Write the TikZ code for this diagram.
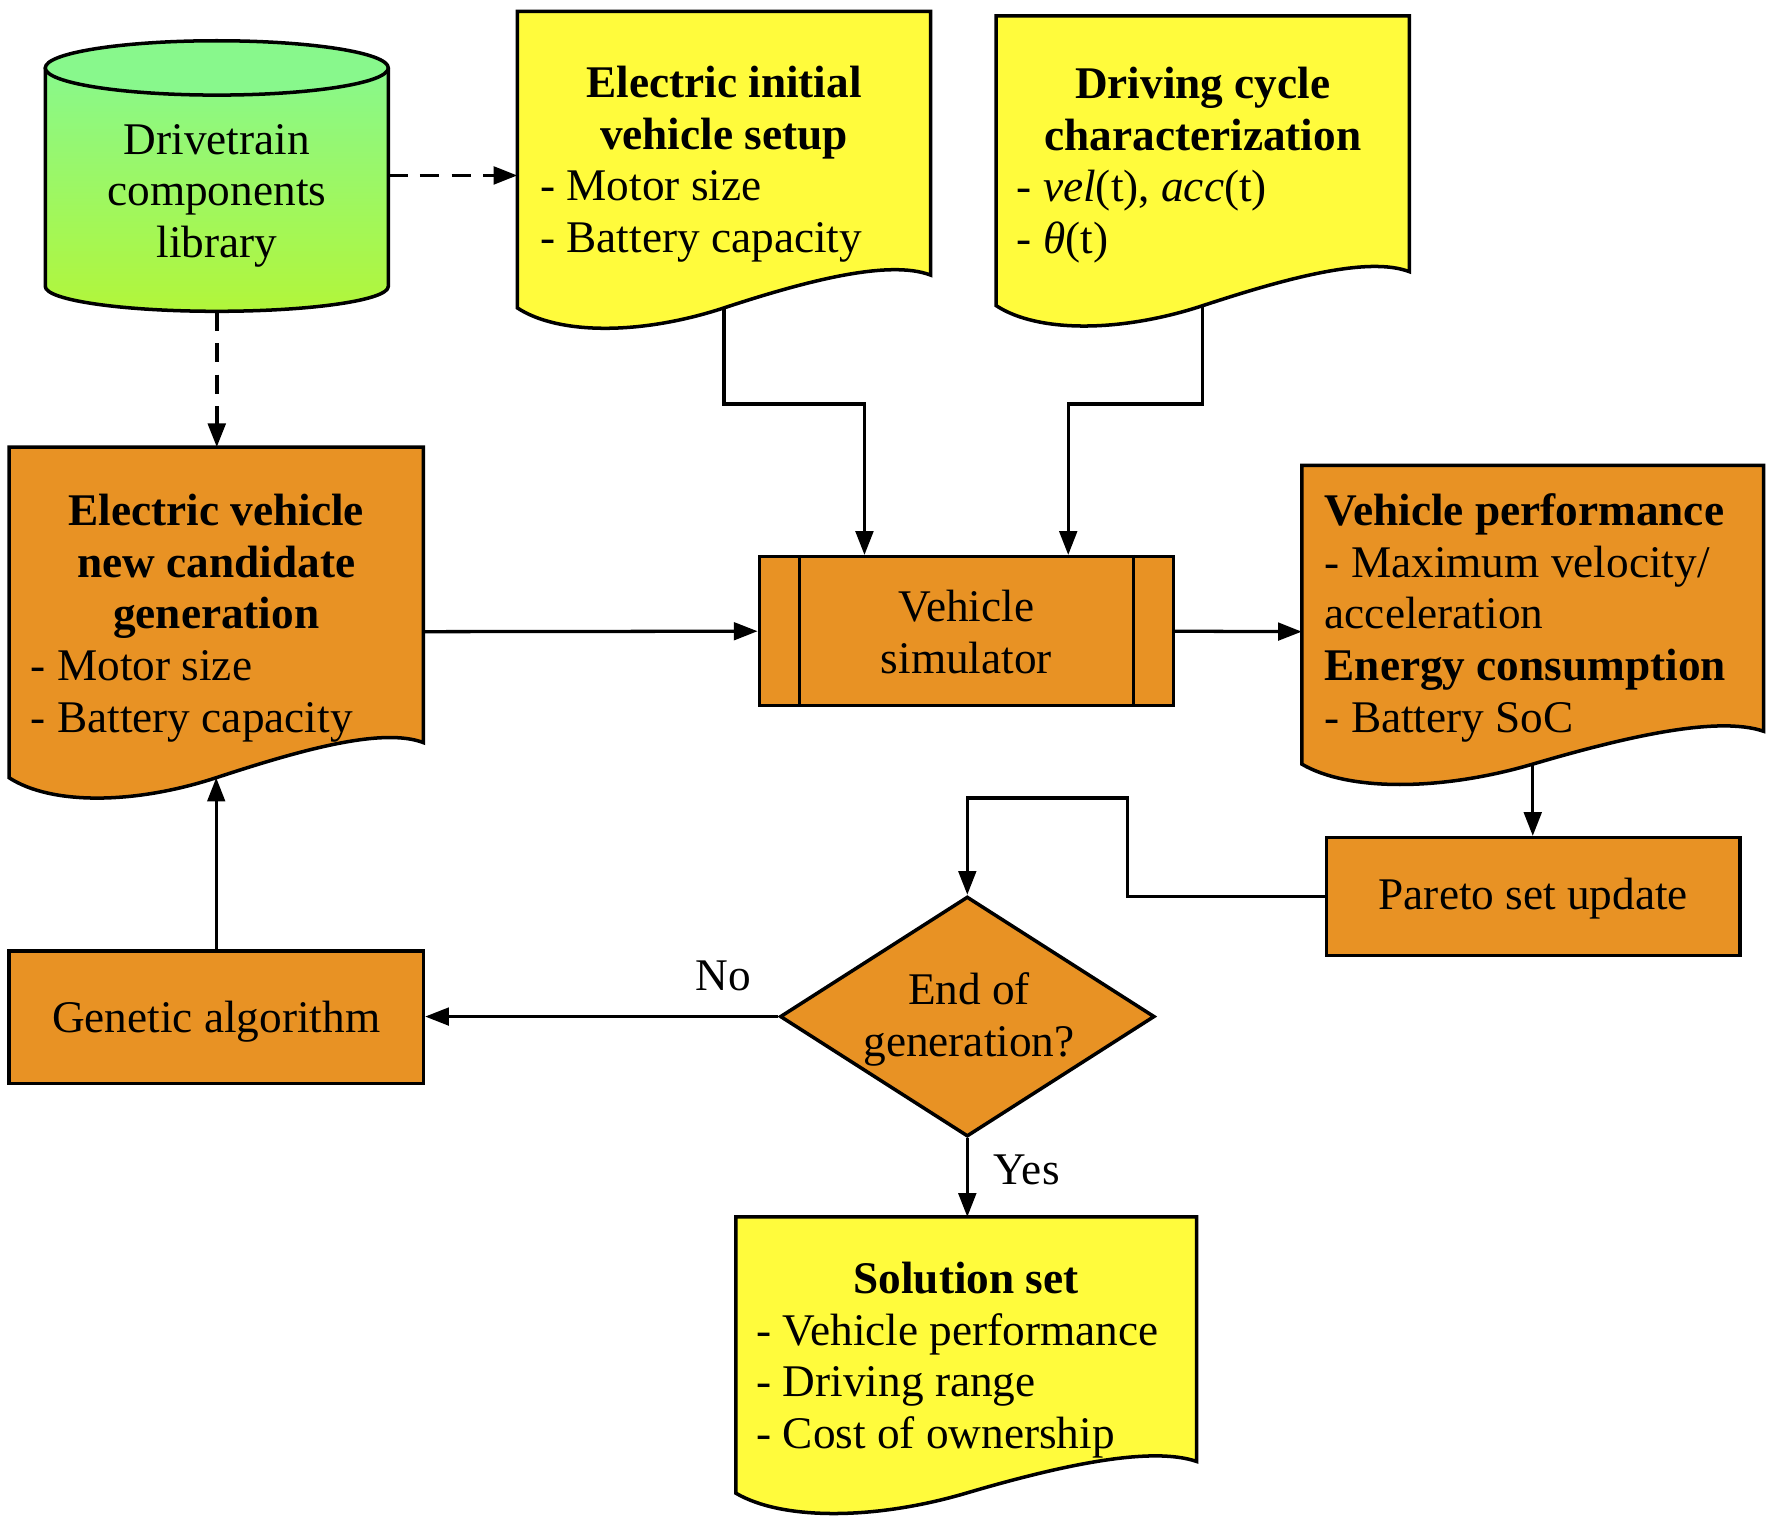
\documentclass[tikz,border=0pt]{standalone}
\usepackage{fontspec}
\setmainfont{Liberation Serif}
\usetikzlibrary{arrows.meta,shapes.geometric}
\definecolor{docyellow}{RGB}{255,251,60}
\definecolor{boxorange}{RGB}{232,146,36}
\definecolor{cyltop}{RGB}{136,248,140}
\definecolor{cylbot}{RGB}{178,246,58}
\tikzset{
  shapeline/.style={draw=black, line width=3.1pt, line join=miter},
  txt/.style={font=\fontsize{40}{45.7}\selectfont, inner sep=0pt},
  btxt/.style={font=\fontsize{40}{45.7}\selectfont\bfseries, inner sep=0pt},
  obox/.style={shapeline, fill=boxorange, rectangle, inner sep=0pt},
  arr/.style={draw=black, line width=2.9pt, -{Triangle[length=21pt,width=15.5pt]}},
  dasharr/.style={arr, line width=3.3pt, dash pattern=on 17pt off 11pt},
}
% #1 name, #2 fill, #3 x0, #4 top, #5 x1, #6 yL, #7 yR
\newcommand\docshape[7]{%
  \draw[shapeline, fill=#2] (#3,#4) -- (#5,#4) -- (#5,#7)
    .. controls ({#3+0.9*(#5-#3)},{#7-14}) and ({#3+0.7*(#5-#3)},{#6-24}) .. ({(#3+#5)/2},#6)
    .. controls ({#3+0.3*(#5-#3)},{#6+24}) and ({#3+0.1*(#5-#3)},{#6+24}) .. (#3,#6) -- cycle;
  \coordinate (#1-nw) at (#3,#4);
  \coordinate (#1-bot) at ({(#3+#5)/2},#6);
}
\begin{document}
\begin{tikzpicture}[x=1pt,y=-1pt]
\useasboundingbox (0,0) rectangle (1568,1354);

% cylinder
\draw[shapeline, top color=cyltop, bottom color=cylbot]
  (40,60) -- (40,253) .. controls (40,265.15) and (107.83,275) .. (191.5,275)
  .. controls (275.17,275) and (343,265.15) .. (343,253) -- (343,60);
\draw[shapeline, fill=cyltop] (191.5,60) ellipse [x radius=151.5pt, y radius=24pt];
\coordinate (cyl-e) at (343,155);
\coordinate (cyl-s) at (191.5,275);
\node[txt, align=center, anchor=north] (cyltxt) at (191.5,104)
  {\strut Drivetrain\\components\\library};

% documents
\docshape{d1}{docyellow}{457}{10}{822}{272}{243}
\docshape{d2}{docyellow}{880}{14}{1245}{270}{240}
\docshape{cand}{boxorange}{8}{395}{374}{687}{656}
\docshape{perf}{boxorange}{1150}{411}{1558}{675}{646}
\docshape{sol}{docyellow}{650}{1075}{1057}{1319}{1291}
\coordinate (cand-e) at (374,558);
\coordinate (perf-w) at (1150,558);

\node[btxt, align=center, anchor=north] (d1t) at (639.5,54)
  {\strut Electric initial\\vehicle setup};
\node[txt, align=left, anchor=north west] (d1l) at (477,145)
  {\strut - Motor size\\- Battery capacity};

\node[btxt, align=center, anchor=north] (d2t) at (1062.5,55)
  {\strut Driving cycle\\characterization};
\node[txt, align=left, anchor=north west] (d2l) at (898,146)
  {\strut - \textit{vel}(t), \textit{acc}(t)\\- \textit{θ}(t)};

\node[btxt, align=center, anchor=north] (candt) at (191,432)
  {\strut Electric vehicle\\new candidate\\generation};
\node[txt, align=left, anchor=north west] (candl) at (27,569)
  {\strut - Motor size\\- Battery capacity};

\node[txt, align=left, anchor=north west] (perft) at (1170,432)
  {\strut\textbf{Vehicle performance}\\- Maximum velocity/\\acceleration\\\textbf{Energy consumption}\\- Battery SoC};

\node[btxt, align=center, anchor=north] (solt) at (853.5,1110.4)
  {\strut Solution set};
\node[txt, align=left, anchor=north west] (soll) at (668,1156)
  {\strut - Vehicle performance\\- Driving range\\- Cost of ownership};

% simulator
\node[obox, minimum width=365.7pt, minimum height=131.6pt] (sim) at (853.65,557.6) {};
\draw[shapeline] ([xshift=36.8pt]sim.north west) -- ([xshift=36.8pt]sim.south west);
\draw[shapeline] ([xshift=-36.8pt]sim.north east) -- ([xshift=-36.8pt]sim.south east);
\node[txt, align=center, anchor=north] (simt) at (853.65,517) {\strut Vehicle\\simulator};

% pareto, GA
\node[obox, minimum width=365pt, minimum height=104pt] (pareto) at (1354.5,792) {};
\node[txt, anchor=base] (paretot) at (1354.5,803) {Pareto set update};
\node[obox, minimum width=366pt, minimum height=117pt] (ga) at (191,898.5) {};
\node[txt, anchor=base] (gat) at (191,912) {Genetic algorithm};

% decision
\node[diamond, shapeline, fill=boxorange, inner sep=0pt, minimum width=331pt, minimum height=212pt] (dia) at (854.5,898) {};
\node[txt, align=center, anchor=north] (diat) at (856,855) {\strut End of\\generation?};
\node[txt, anchor=base] (no) at (639,875) {No};
\node[txt, anchor=base] (yes) at (907,1046) {Yes};

% connectors
\coordinate (bend1) at (763.65,357);
\coordinate (bend2) at (943.65,357);
\coordinate (bend3) at (996,705);
\draw[dasharr] (cyl-e) -- (d1-nw |- cyl-e);
\draw[dasharr] (cyl-s) -- (cyl-s |- cand-nw);
\draw[arr] (d1-bot) |- (bend1) -- ([xshift=-90pt]sim.north);
\draw[arr] (d2-bot) |- (bend2) -- ([xshift=90pt]sim.north);
\draw[arr] (cand-e) -- (sim.west);
\draw[arr] (sim.east) -- (perf-w);
\draw[arr] (perf-bot) -- (perf-bot |- pareto.north);
\draw[arr] (pareto.west) -| (bend3) -| (dia.north);
\draw[arr] (dia.west) -- (dia.west -| ga.east);
\draw[arr] (ga.north) -- (ga.north |- cand-bot);
\draw[arr] (dia.south) -- (dia.south |- sol-nw);
\end{tikzpicture}
\end{document}
